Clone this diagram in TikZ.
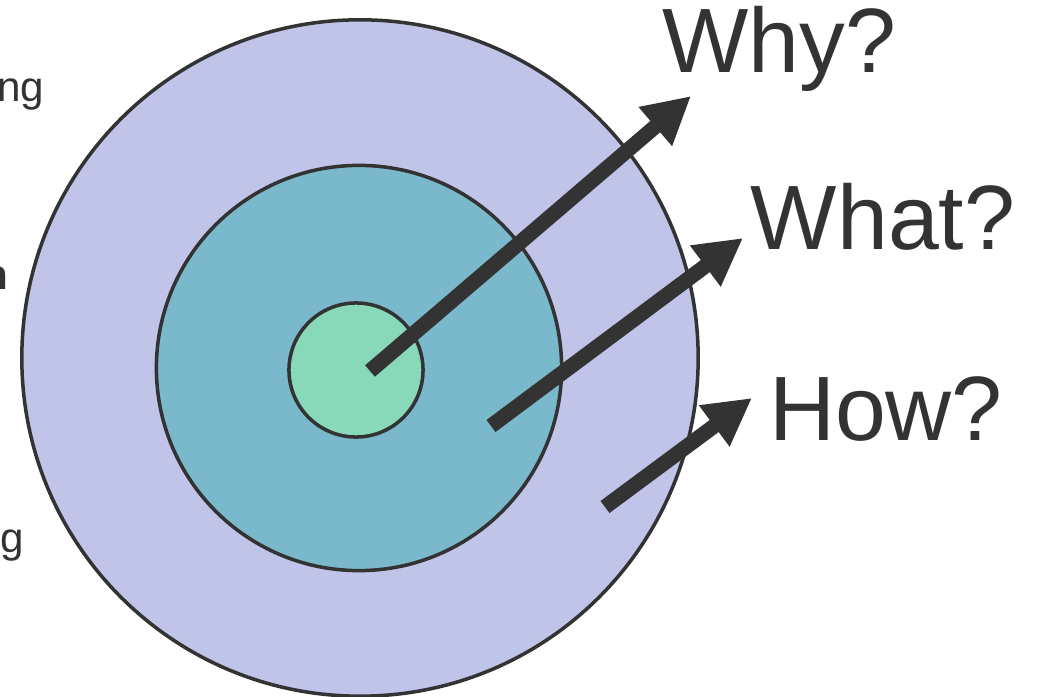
\documentclass[tikz,border=0pt]{standalone}
\usepackage{fontspec}
\setmainfont{Liberation Sans}
\usetikzlibrary{arrows.meta}
\definecolor{ink}{HTML}{333333}
\definecolor{lavender}{HTML}{BFC4E8}
\definecolor{teal}{HTML}{7AB8CB}
\definecolor{mint}{HTML}{88D8BA}

\begin{document}
\begin{tikzpicture}[
        x=0.01cm,y=-0.01cm,
        ring/.style={draw=ink,line width=1pt},
        arr/.style={-{Triangle[length=4.7mm,width=4.8mm]},line width=1.5mm,draw=ink},
        question/.style={text=ink,font=\fontsize{26}{30}\selectfont,inner sep=0pt,anchor=base},
        side/.style={text=ink,font=\fontsize{12}{14}\selectfont,inner sep=0pt}
      ]
        \useasboundingbox (0,0) rectangle (1041,697);
        \clip (0,0) rectangle (1041,697);
        % target rings
        \node[ring,circle,fill=lavender,minimum size=6.76cm] (outer) at (360,358) {};
        \node[ring,circle,fill=teal,minimum size=4.05cm] (middle) at (359,368) {};
        \node[ring,circle,fill=mint,minimum size=1.34cm] (core) at (356,370) {};
        % cut-off side labels
        \node[side,anchor=base east] (top) at (45,101) {ng};
        \node[side,anchor=base east,font=\fontsize{12}{14}\selectfont\bfseries] (mid) at (9,290) {n};
        \node[side,anchor=base east] (low) at (25,553) {g};
        % questions
        \node[question] (why) at (779,72) {Why?};
        \node[question] (what) at (883,250) {What?};
        \node[question] (how) at (886,440) {How?};
        % arrows
        \coordinate (whyfrom) at (370,371);
        \coordinate (whyto) at (691,96);
        \coordinate (whatfrom) at (491,426);
        \coordinate (whatto) at (743,238);
        \coordinate (howfrom) at (605,507);
        \coordinate (howto) at (752,398);
        \draw[arr] (whyfrom) -- (whyto);
        \draw[arr] (whatfrom) -- (whatto);
        \draw[arr] (howfrom) -- (howto);
      \end{tikzpicture}
\end{document}
